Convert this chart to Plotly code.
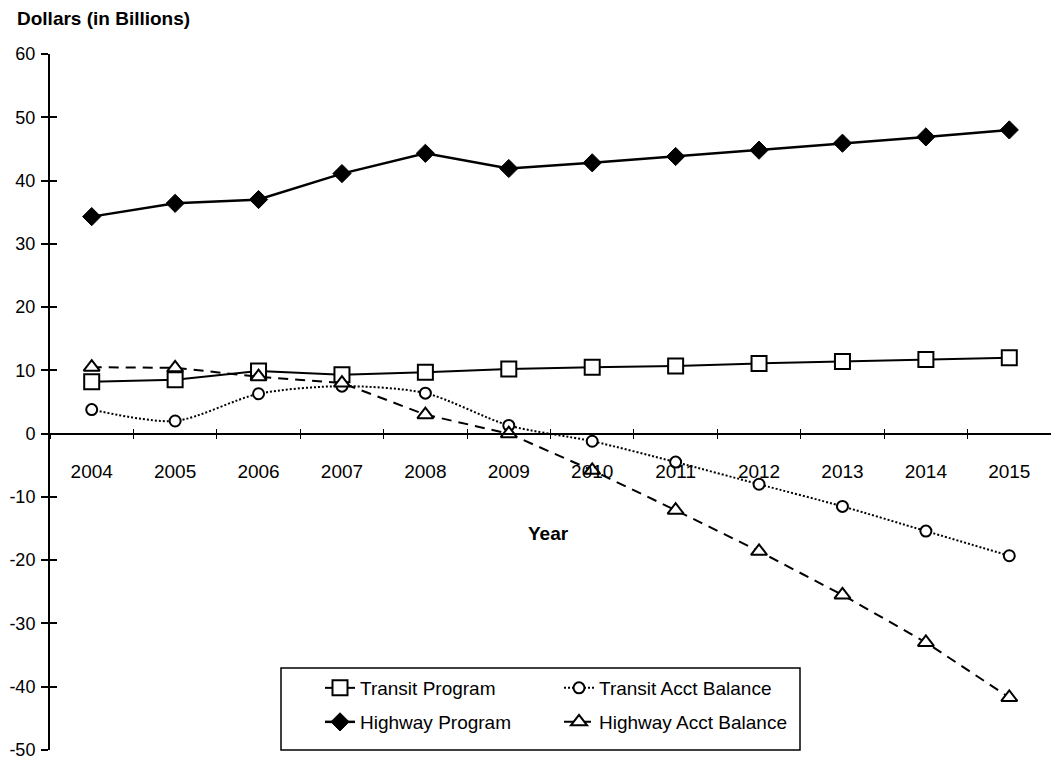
import plotly.graph_objects as go

years = ["2004", "2005", "2006", "2007", "2008", "2009", "2010", "2011", "2012", "2013", "2014", "2015"]
transit_program = [8.2, 8.5, 9.9, 9.3, 9.7, 10.2, 10.5, 10.7, 11.1, 11.4, 11.7, 12.0]
highway_program = [34.3, 36.4, 37.0, 41.1, 44.3, 41.9, 42.8, 43.8, 44.8, 45.9, 46.9, 48.0]
transit_acct = [3.8, 2.0, 6.3, 7.5, 6.4, 1.3, -1.2, -4.5, -8.0, -11.5, -15.4, -19.3]
highway_acct = [10.5, 10.4, 9.0, 8.0, 3.0, 0.0, -5.8, -12.1, -18.6, -25.5, -33.0, -41.7]

y_tick_values = [-50, -40, -30, -20, -10, 0, 10, 20, 30, 40, 50, 60]
y_tick_labels = ["-50", "-40", "-30", "-20", "-10", "0", "10", "20", "30", "40", "50", "60"]

FONT = "Liberation Sans, Arial, sans-serif"

fig = go.Figure()

fig.add_trace(go.Scatter(
    x=years, y=transit_program, name="Transit Program", mode="lines+markers",
    line=dict(color="black", width=2),
    marker=dict(symbol="square", size=15, color="white", line=dict(color="black", width=2)),
    legend="legend",
))
fig.add_trace(go.Scatter(
    x=years, y=highway_program, name="Highway Program", mode="lines+markers",
    line=dict(color="black", width=2.5),
    marker=dict(symbol="diamond", size=14, color="black", line=dict(color="black", width=1)),
    legend="legend2",
))
fig.add_trace(go.Scatter(
    x=years, y=transit_acct, name="Transit Acct Balance", mode="lines+markers",
    line=dict(color="black", width=2, dash="2px,2px", shape="spline", smoothing=0.8),
    marker=dict(symbol="circle", size=11, color="white", line=dict(color="black", width=2)),
    legend="legend3",
))
fig.add_trace(go.Scatter(
    x=years, y=highway_acct, name="Highway Acct Balance", mode="lines+markers",
    line=dict(color="black", width=2, dash="10px,7px"),
    marker=dict(symbol="triangle-up", size=14, color="white", line=dict(color="black", width=2)),
    legend="legend4",
))
# helper trace for overlay axes (crossing tick marks)
fig.add_trace(go.Scatter(x=years, y=[None] * len(years), xaxis="x2", yaxis="y2",
                         showlegend=False, hoverinfo="skip", mode="lines"))

zero_pos = 50 / 110

# the page body adds an 8px margin, so the figure is 8px smaller on each side
fig.update_layout(
    width=1051, height=752,
    margin=dict(l=42, r=8, t=46, b=10),
    paper_bgcolor="white", plot_bgcolor="white",
    font=dict(family=FONT, color="black", size=19),
    xaxis=dict(
        type="category", range=[-0.5, 11.5], anchor="free", position=zero_pos,
        showline=True, linecolor="black", linewidth=1.5,
        tickson="boundaries", ticks="outside", ticklen=5, tickcolor="black", tickwidth=1,
        ticklabelstandoff=21, tickfont=dict(size=19, family=FONT),
        showgrid=False, zeroline=False, automargin=False,
    ),
    xaxis2=dict(
        type="category", matches="x", overlaying="x", anchor="free", position=zero_pos,
        showline=False, tickson="boundaries", ticks="inside", ticklen=5,
        tickcolor="black", tickwidth=1, showticklabels=False, showgrid=False, zeroline=False,
        automargin=False,
    ),
    yaxis=dict(
        range=[-50, 60], tickmode="array", tickvals=y_tick_values, ticktext=y_tick_labels,
        showline=True, linecolor="black", linewidth=2,
        ticks="outside", ticklen=7, tickcolor="black", tickwidth=1.5,
        ticklabelstandoff=2, ticklabeloverflow="allow",
        tickfont=dict(size=18, family=FONT), showgrid=False, zeroline=False, automargin=False,
    ),
    yaxis2=dict(
        matches="y", overlaying="y", side="left", showline=False,
        tickmode="array", tickvals=y_tick_values,
        ticks="inside", ticklen=7, tickcolor="black", tickwidth=1.5,
        showticklabels=False, showgrid=False, zeroline=False, automargin=False,
    ),
    showlegend=True,
)

legend_common = dict(bgcolor="rgba(0,0,0,0)", borderwidth=0, font=dict(size=19, family=FONT),
                     xanchor="left", yanchor="middle", itemclick=False)
fig.update_layout(
    legend=dict(x=(320 - 50) / 1001, y=(750 - 688) / 696, **legend_common),
    legend2=dict(x=(320 - 50) / 1001, y=(750 - 722) / 696, **legend_common),
    legend3=dict(x=(559 - 50) / 1001, y=(750 - 688) / 696, **legend_common),
    legend4=dict(x=(559 - 50) / 1001, y=(750 - 722) / 696, **legend_common),
)

fig.add_shape(type="rect", xref="paper", yref="paper",
              x0=(281 - 50) / 1001, x1=(800 - 50) / 1001,
              y0=(750 - 750) / 696, y1=(750 - 668) / 696,
              line=dict(color="black", width=1.5), fillcolor="white", layer="below")

fig.add_annotation(text="<b>Dollars (in Billions)</b>", xref="paper", yref="paper",
                   x=(15 - 50) / 1001, y=(750 - 18) / 696, xanchor="left", yanchor="middle",
                   showarrow=False, font=dict(size=19, family=FONT))
fig.add_annotation(text="<b>Year</b>", xref="paper", yref="paper",
                   x=(548 - 50) / 1001, y=(750 - 533) / 696, xanchor="center", yanchor="middle",
                   showarrow=False, font=dict(size=19, family=FONT))

fig.write_html("out.html")
